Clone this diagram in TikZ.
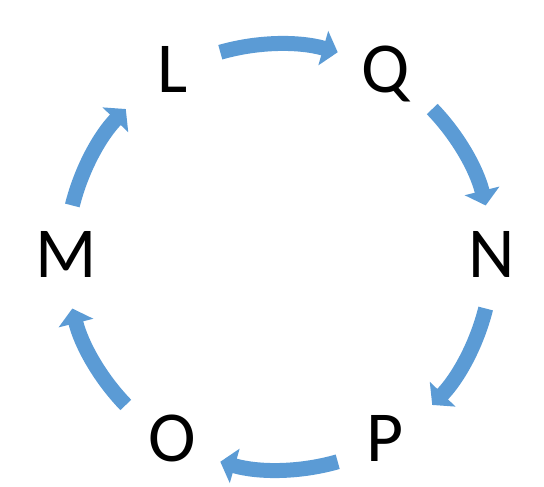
\documentclass[tikz,border=0pt]{standalone}
\usepackage{fontspec}
\setmainfont{Carlito}
\usetikzlibrary{arrows.meta}
\definecolor{cycblue}{HTML}{5B9BD5}

\begin{document}
\begin{tikzpicture}[x=1bp,y=1bp,
    lt/.style={inner sep=0pt,font=\fontsize{72}{80}\selectfont,
               text height=45.5bp,text depth=0pt},
    cyc/.style={draw=cycblue,line width=15bp,
                -{Triangle[length=15bp,width=35bp]}}]
  \useasboundingbox (0,0) rectangle (544,487);
  \coordinate (c) at (279,230);
  \coordinate (lc) at (279,232.5);

  % ---------------- letters round the circle
  \node[lt] (L) at ([shift={(120:213)}]lc) {L};
  \node[lt] (Q) at ([shift={(60:213)}]lc) {Q};
  \node[lt] (N) at ([shift={(0:213)}]lc) {N};
  \node[lt] (P) at ([shift={(-60:213)}]lc) {P};
  \node[lt] (O) at ([shift={(-120:213)}]lc) {O};
  \node[lt] (M) at ([shift={(180:213)}]lc) {M};

  % ---------------- arrows, all on the same circle
  \coordinate (LQ) at ([shift={(106:213)}]c);
  \coordinate (QN) at ([shift={(44:213)}]c);
  \coordinate (NP) at ([shift={(-14:213)}]c);
  \coordinate (PO) at ([shift={(-74:213)}]c);
  \coordinate (OM) at ([shift={(-136:213)}]c);
  \coordinate (ML) at ([shift={(166:213)}]c);
  \draw[cyc] (LQ) arc[start angle=106,end angle=74,radius=213];
  \draw[cyc] (QN) arc[start angle=44,end angle=14,radius=213];
  \draw[cyc] (NP) arc[start angle=-14,end angle=-44,radius=213];
  \draw[cyc] (PO) arc[start angle=-74,end angle=-106,radius=213];
  \draw[cyc] (OM) arc[start angle=-136,end angle=-166,radius=213];
  \draw[cyc] (ML) arc[start angle=166,end angle=136,radius=213];
\end{tikzpicture}
\end{document}
